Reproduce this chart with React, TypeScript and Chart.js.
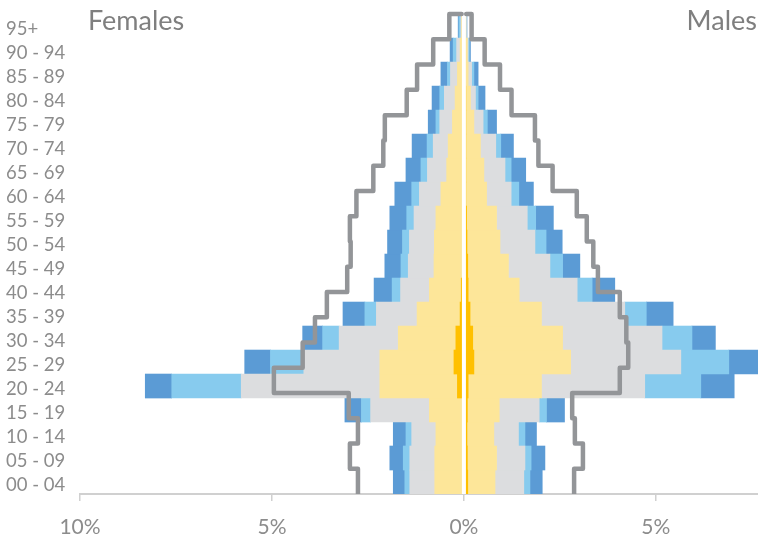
import React, { useEffect, useRef } from "react";
import { Chart, registerables } from "chart.js";

Chart.register(...registerables);

// Age groups, bottom to top
const AGE_LABELS = [
  "00 - 04", "05 - 09", "10 - 14", "15 - 19", "20 - 24", "25 - 29", "30 - 34",
  "35 - 39", "40 - 44", "45 - 49", "50 - 54", "55 - 59", "60 - 64", "65 - 69",
  "70 - 74", "75 - 79", "80 - 84", "85 - 89", "90 - 94", "95+",
];

// Females: share of population (%) per layer, innermost first
const F_DARK_YELLOW = [0, 0, 0, 0.02, 0.17, 0.26, 0.21, 0.10, 0.07, 0.04, 0.03, 0.02, 0.02, 0.01, 0.01, 0.01, 0.01, 0.01, 0, 0];
const F_LIGHT_YELLOW = [0.76, 0.76, 0.73, 0.88, 2.02, 1.93, 1.50, 1.12, 0.83, 0.74, 0.74, 0.71, 0.58, 0.44, 0.40, 0.29, 0.22, 0.16, 0.10, 0.06];
const F_GREY = [0.65, 0.65, 0.63, 1.53, 3.61, 1.98, 1.54, 1.06, 0.75, 0.67, 0.65, 0.57, 0.56, 0.50, 0.39, 0.33, 0.28, 0.18, 0.09, 0.02];
const F_LIGHT_BLUE = [0.13, 0.17, 0.15, 0.24, 1.81, 0.87, 0.43, 0.30, 0.22, 0.19, 0.18, 0.19, 0.20, 0.17, 0.16, 0.10, 0.12, 0.08, 0.09, 0.05];
const F_DARK_BLUE = [0.30, 0.35, 0.33, 0.43, 0.69, 0.67, 0.52, 0.57, 0.47, 0.42, 0.39, 0.44, 0.44, 0.39, 0.39, 0.20, 0.20, 0.17, 0.08, 0.02];

// Males
const M_DARK_YELLOW = [0.10, 0.09, 0.08, 0.09, 0.11, 0.26, 0.23, 0.16, 0.11, 0.10, 0.08, 0.07, 0.05, 0.05, 0.05, 0.05, 0.05, 0.04, 0.04, 0.03];
const M_LIGHT_YELLOW = [0.71, 0.76, 0.70, 0.83, 1.91, 2.52, 2.34, 1.86, 1.33, 1.06, 0.86, 0.78, 0.54, 0.47, 0.38, 0.21, 0.12, 0.07, 0.05, 0.02];
const M_GREY = [0.75, 0.74, 0.64, 1.04, 2.69, 2.87, 2.59, 2.17, 1.51, 1.08, 0.91, 0.80, 0.64, 0.55, 0.40, 0.24, 0.13, 0.09, 0.02, 0.01];
const M_LIGHT_BLUE = [0.16, 0.16, 0.17, 0.19, 1.46, 1.25, 0.78, 0.56, 0.39, 0.33, 0.29, 0.22, 0.20, 0.16, 0.13, 0.11, 0.07, 0.06, 0.03, 0.01];
const M_DARK_BLUE = [0.32, 0.36, 0.30, 0.47, 0.87, 1.10, 0.61, 0.70, 0.59, 0.45, 0.42, 0.46, 0.38, 0.38, 0.33, 0.24, 0.18, 0.11, 0.03, 0.01];

// Comparison outline (19 groups, bottom to top) and its closing value at the top
const F_OUTLINE = [2.76, 2.97, 2.76, 3.00, 4.95, 4.20, 3.88, 3.57, 3.04, 2.95, 2.97, 2.80, 2.36, 2.10, 2.06, 1.49, 1.22, 0.80, 0.38];
const M_OUTLINE = [2.87, 3.10, 2.89, 2.82, 4.06, 4.28, 4.23, 4.06, 3.49, 3.37, 3.20, 2.94, 2.31, 1.94, 1.85, 1.24, 0.94, 0.54, 0.20];
const OUTLINE_TOP = 0.06;

// Axis
const X_MIN = -10;
const X_MAX = 7.66;
const X_TICKS = [-10, -5, 0, 5];

const COLORS = {
  darkYellow: "#ffc000",
  lightYellow: "#fde699",
  grey: "#dcdddf",
  lightBlue: "#87cbee",
  darkBlue: "#5b9bd5",
  outline: "#939598",
  text: "#8c8c8c",
  title: "#7f7f7f",
  axis: "#d0d0d0",
};

const FONT = "Lato, 'Open Sans', sans-serif";

// Step outline on the age (category) axis: the outline's groups are spread
// evenly over the same span as the bar categories.
function stepPoints(values: number[], sign: number, top: number) {
  const span = AGE_LABELS.length / values.length;
  const yAt = (j: number) => -0.5 + j * span;
  const pts: { x: number; y: number }[] = [];
  values.forEach((v, j) => {
    pts.push({ x: sign * v, y: yAt(j) });
    pts.push({ x: sign * v, y: yAt(j + 1) });
  });
  pts.push({ x: sign * top, y: yAt(values.length) });
  return pts;
}

export default function App() {
  const canvasRef = useRef<HTMLCanvasElement | null>(null);

  useEffect(() => {
    const canvas = canvasRef.current;
    if (!canvas) return;

    const layers = [
      { f: F_DARK_YELLOW, m: M_DARK_YELLOW, c: COLORS.darkYellow },
      { f: F_LIGHT_YELLOW, m: M_LIGHT_YELLOW, c: COLORS.lightYellow },
      { f: F_GREY, m: M_GREY, c: COLORS.grey },
      { f: F_LIGHT_BLUE, m: M_LIGHT_BLUE, c: COLORS.lightBlue },
      { f: F_DARK_BLUE, m: M_DARK_BLUE, c: COLORS.darkBlue },
    ];

    const barBase = {
      type: "bar" as const,
      stack: "pop",
      order: 1,
      borderWidth: 0,
      barPercentage: 1,
      categoryPercentage: 1,
      xAxisID: "x",
      yAxisID: "y",
    };

    const barSets: any[] = [];
    layers.forEach((l) => {
      barSets.push({ ...barBase, data: l.f.map((v) => -v), backgroundColor: l.c });
    });
    layers.forEach((l) => {
      barSets.push({ ...barBase, data: l.m.map((v) => v), backgroundColor: l.c });
    });

    const lineBase = {
      type: "line" as const,
      indexAxis: "y" as const,
      parsing: false,
      order: 0,
      xAxisID: "x",
      yAxisID: "y",
      borderColor: COLORS.outline,
      borderWidth: 4.5,
      borderJoinStyle: "round" as const,
      borderCapStyle: "round" as const,
      pointRadius: 0,
      pointHoverRadius: 0,
      fill: false,
      tension: 0,
      clip: { left: 0, right: 0, top: 4, bottom: 0 },
    };

    const lineSets: any[] = [
      { ...lineBase, stack: "outlineF", data: stepPoints(F_OUTLINE, -1, OUTLINE_TOP) },
      { ...lineBase, stack: "outlineM", data: stepPoints(M_OUTLINE, 1, OUTLINE_TOP) },
    ];

    const centerLine = {
      id: "centerLine",
      afterDatasetDraw(chart: any, args: any) {
        if (args.index !== 0) return;
        const x = chart.scales.x.getPixelForValue(0);
        const { top, bottom } = chart.chartArea;
        const ctx = chart.ctx;
        ctx.save();
        ctx.fillStyle = "#ffffff";
        ctx.fillRect(x - 2, top, 4, bottom - top);
        ctx.restore();
      },
    };

    const chart = new Chart(canvas, {
      type: "bar",
      data: {
        labels: AGE_LABELS,
        datasets: [...barSets, ...lineSets],
      },
      plugins: [centerLine],
      options: {
        indexAxis: "y",
        responsive: false,
        animation: false,
        events: [],
        layout: { padding: { left: 6, top: 12, right: 0, bottom: 0 } },
        plugins: {
          legend: { display: false },
          tooltip: { enabled: false },
          title: { display: false },
        },
        scales: {
          x: {
            type: "linear",
            min: X_MIN,
            max: X_MAX,
            stacked: true,
            afterBuildTicks: (scale: any) => {
              scale.ticks = X_TICKS.map((v) => ({ value: v }));
            },
            afterFit: (scale: any) => {
              scale.height = 45;
            },
            ticks: {
              callback: (v: any) => Math.abs(Number(v)) + "%",
              color: COLORS.text,
              font: { family: FONT, size: 21 },
              padding: 14,
              maxRotation: 0,
            },
            grid: {
              drawOnChartArea: false,
              drawTicks: true,
              tickLength: 7,
              color: COLORS.axis,
              lineWidth: 1.5,
            },
            border: { display: true, color: COLORS.axis, width: 2 },
          },
          y: {
            type: "category",
            stacked: true,
            reverse: true,
            afterFit: (scale: any) => {
              scale.width = 74;
            },
            ticks: {
              color: COLORS.text,
              font: { family: FONT, size: 18.5 },
              crossAlign: "far",
              labelOffset: 3,
              autoSkip: false,
            },
            grid: { display: false, drawTicks: false },
            border: { display: false },
          },
        },
      } as any,
    });

    return () => chart.destroy();
  }, []);

  const titleStyle: React.CSSProperties = {
    position: "absolute",
    top: 3,
    fontFamily: FONT,
    fontSize: 27,
    color: COLORS.title,
    lineHeight: "34px",
    whiteSpace: "nowrap",
  };

  return (
    <div style={{ position: "absolute", left: 0, top: 0, width: 758, height: 539, background: "#fff" }}>
      <canvas ref={canvasRef} width={758} height={539} style={{ position: "absolute", left: 0, top: 0 }} />
      <div style={{ ...titleStyle, left: 88 }}>Females</div>
      <div style={{ ...titleStyle, right: 1 }}>Males</div>
    </div>
  );
}
